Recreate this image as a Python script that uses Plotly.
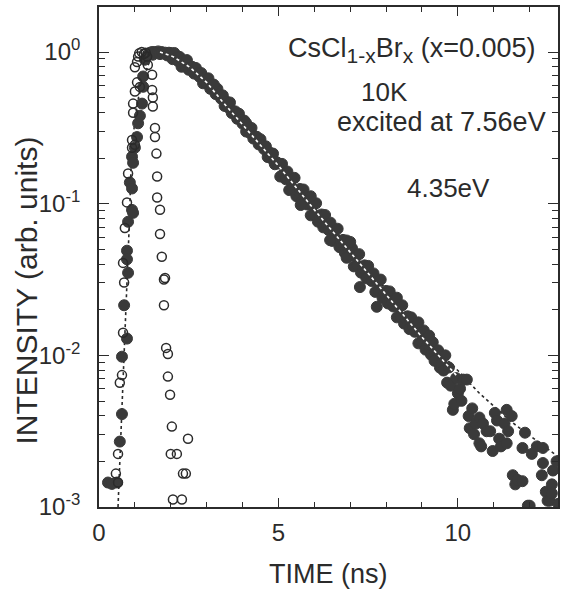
import plotly.graph_objects as go

# ---------------- data ----------------
# excitation pulse (open circles): time (ns), intensity
pulse_t = [1.19, 1.12, 1.25, 1.30, 1.09, 1.06, 1.00, 1.34, 1.36, 1.48, 1.06, 1.00, 1.14, 1.48,
           1.50, 1.50, 0.95, 0.95, 1.56, 1.56, 0.92, 0.92, 1.00, 1.60, 1.62, 0.81, 1.62, 1.70,
           0.78, 0.72, 1.70, 0.67, 1.75, 1.84, 0.70, 1.81, 1.81, 0.67, 1.87, 1.92, 0.64, 1.92,
           0.58, 1.98, 2.03, 2.48, 0.53, 2.00, 2.17, 0.47, 2.34, 2.42, 0.53, 2.06, 2.31]
pulse_v = [1.00, 0.98, 0.97, 0.99, 0.933, 0.86, 0.794, 0.933, 0.822, 0.708, 0.631, 0.55, 0.589, 0.562,
           0.501, 0.437, 0.457, 0.398, 0.316, 0.275, 0.263, 0.234, 0.245, 0.214, 0.151, 0.158, 0.110, 0.0912,
           0.102, 0.0692, 0.0631, 0.0407, 0.0447, 0.0324, 0.0302, 0.0316, 0.0214, 0.0141, 0.0112, 0.0102, 0.00741, 0.00724,
           0.0066, 0.0055, 0.00339, 0.00282, 0.00224, 0.00224, 0.00224, 0.00166, 0.00166, 0.00166, 0.00145, 0.00112, 0.00112]

# luminescence at 4.35 eV (filled circles): time (ns), intensity
lum_t = [0.25, 0.36, 0.50, 0.58, 0.64, 0.64, 0.70, 0.78, 0.78, 0.78, 0.81, 0.81, 0.86, 0.92, 0.92, 0.95,
         0.92, 0.95, 1.00, 1.06, 1.09, 1.14, 1.20, 1.23, 1.23, 1.28, 1.35, 1.42, 1.48,
         1.50, 1.55, 1.60, 1.65, 1.70, 1.75, 1.80, 1.85, 1.90, 1.95,
         2.00, 2.05, 2.10, 2.15, 2.20, 2.25, 2.30, 2.35, 2.40, 2.45, 2.50, 2.55,
         2.60, 2.65, 2.70, 2.75, 2.80, 2.85, 2.90, 2.95, 3.00, 3.05, 3.10, 3.15,
         3.20, 3.25, 3.30, 3.35, 3.40, 3.45, 3.50, 3.55, 3.60, 3.65, 3.70, 3.75,
         3.80, 3.85, 3.90, 3.95, 4.00, 4.05, 4.10, 4.15, 4.20, 4.25, 4.30, 4.35,
         4.40, 4.45, 4.50, 4.55, 4.60, 4.65, 4.70, 4.75, 4.80, 4.85, 4.90, 4.95,
         5.00, 5.05, 5.10, 5.15, 5.20, 5.25, 5.30, 5.35, 5.40, 5.45, 5.50, 5.55,
         5.60, 5.65, 5.70, 5.75, 5.80, 5.85, 5.90, 5.95, 6.00, 6.05, 6.10, 6.15,
         6.20, 6.25, 6.30, 6.35, 6.40, 6.45, 6.50, 6.55, 6.60, 6.65, 6.70, 6.75,
         6.80, 6.85, 6.90, 6.95, 7.00, 7.05, 7.10, 7.15, 7.20, 7.25, 7.30, 7.35,
         7.40, 7.45, 7.50, 7.55, 7.60, 7.65, 7.70, 7.75, 7.80, 7.85, 7.90, 7.95,
         8.00, 8.05, 8.10, 8.15, 8.20, 8.25, 8.30, 8.35, 8.40, 8.45, 8.50, 8.55,
         8.60, 8.65, 8.70, 8.75, 8.80, 8.85, 8.90, 8.95, 9.00, 9.05, 9.10, 9.15,
         9.20, 9.25, 9.30, 9.35, 9.40, 9.45, 9.50,
         7.27, 7.74, 5.62, 6.44, 3.20, 4.10, 5.90, 6.90, 8.30, 8.90, 7.00, 9.20, 9.35,
         9.55, 9.60, 9.65, 9.70, 9.75, 9.80, 9.86, 9.90, 9.95, 10.00, 10.06, 10.10, 10.15, 10.25, 10.30,
         10.33, 10.40, 10.45, 10.50, 10.60, 10.60, 10.65, 10.70, 10.80, 10.90, 10.97, 11.03, 11.09, 11.15,
         11.20, 11.30, 11.36, 11.36, 11.40, 11.50, 11.53, 11.60, 11.66, 11.80, 11.80, 11.87, 11.95, 12.00,
         12.06, 12.20, 12.34, 12.37, 12.37, 12.45, 12.50, 12.56, 12.62, 12.62, 12.65, 12.75, 12.80]
lum_v = [0.00145, 0.00142, 0.00145, 0.0027, 0.0041, 0.0098, 0.0214, 0.0129, 0.049, 0.043, 0.035, 0.076,
         0.138, 0.126, 0.204, 0.186, 0.091, 0.087, 0.234, 0.275, 0.339, 0.38, 0.457, 0.59, 0.69, 0.89,
         0.95, 0.99, 1.00,
         0.96, 1.00, 0.99, 1.01, 0.97, 1.00, 0.98, 0.99, 0.95, 0.99,
         0.984, 0.898, 0.986, 0.915, 0.873, 0.929, 0.800, 0.872, 0.806, 0.885, 0.764, 0.795,
         0.799, 0.721, 0.785, 0.724, 0.687, 0.727, 0.622, 0.674, 0.620, 0.671, 0.572, 0.590,
         0.590, 0.528, 0.572, 0.524, 0.493, 0.518, 0.441, 0.472, 0.431, 0.465, 0.396, 0.407,
         0.406, 0.363, 0.392, 0.358, 0.337, 0.353, 0.299, 0.321, 0.293, 0.316, 0.269, 0.277,
         0.276, 0.246, 0.266, 0.243, 0.229, 0.239, 0.203, 0.218, 0.199, 0.214, 0.182, 0.188,
         0.184, 0.151, 0.183, 0.158, 0.145, 0.163, 0.123, 0.142, 0.126, 0.148, 0.112, 0.121,
         0.125, 0.1035, 0.124, 0.107, 0.0988, 0.110, 0.0838, 0.097, 0.0848, 0.1007, 0.0761, 0.082,
         0.0849, 0.0698, 0.0842, 0.0728, 0.067, 0.075, 0.0568, 0.0659, 0.0577, 0.0684, 0.0517, 0.0556,
         0.0577, 0.0474, 0.0572, 0.0495, 0.0454, 0.0509, 0.0386, 0.0448, 0.0392, 0.0465, 0.0351, 0.0378,
         0.0392, 0.0322, 0.0389, 0.0336, 0.0309, 0.0347, 0.0262, 0.0304, 0.0266, 0.0316, 0.0239, 0.0257,
         0.0266, 0.0220, 0.0264, 0.0228, 0.0210, 0.0235, 0.0178, 0.0207, 0.0180, 0.0214, 0.0162, 0.0175,
         0.0181, 0.0149, 0.0178, 0.0155, 0.0143, 0.0160, 0.0120, 0.0141, 0.0123, 0.0146, 0.0109, 0.0118,
         0.0123, 0.0101, 0.0122, 0.0105, 0.0097, 0.0108, 0.0083,
         0.0282, 0.0209, 0.098, 0.0575, 0.61, 0.34, 0.112, 0.044, 0.024, 0.0165, 0.056, 0.0135, 0.0092,
         0.00891, 0.00794, 0.0100, 0.00661, 0.00832, 0.00631, 0.00437, 0.00479, 0.00708, 0.00562, 0.00603, 0.00501, 0.00692, 0.00692, 0.00398,
         0.00331, 0.00447, 0.00302, 0.00355, 0.00263, 0.00389, 0.00251, 0.00355, 0.00316, 0.00316, 0.00234, 0.00417, 0.00372, 0.00282,
         0.00251, 0.00355, 0.00263, 0.00437, 0.00316, 0.00398, 0.00162, 0.00141, 0.00151, 0.00148, 0.00245, 0.00309, 0.00102, 0.00102,
         0.00224, 0.00251, 0.00162, 0.00195, 0.00245, 0.00126, 0.00110, 0.00110, 0.00141, 0.00123, 0.00174, 0.00200, 0.00105]

# fitted curve (dotted)
fit_t = [0.53, 0.60, 0.66, 0.73, 0.80, 0.85, 0.90, 1.00, 1.10, 1.23, 1.35, 1.45, 1.55, 1.65,
         2.06, 2.53, 3.00, 3.45, 4.00, 5.00, 6.00, 7.00, 8.00, 9.00, 9.45, 10.00, 10.60, 11.50, 12.80]
fit_v = [0.0010, 0.0025, 0.0063, 0.0141, 0.0316, 0.0794, 0.200, 0.360, 0.500, 0.631, 0.800, 0.910, 0.970, 1.00,
         0.933, 0.794, 0.631, 0.468, 0.331, 0.178, 0.0955, 0.0513, 0.0275, 0.0145, 0.0107, 0.00794, 0.00562, 0.00363, 0.00214]

# single-exponential guide drawn in white through the data
guide_t = [1.70, 2.06, 2.53, 3.00, 3.45, 4.00, 5.00, 6.00, 7.00, 8.00, 9.00, 10.00]
guide_v = [1.00, 0.933, 0.794, 0.631, 0.468, 0.331, 0.178, 0.0912, 0.0478, 0.0251, 0.0132, 0.0072]

y_tickvals = [1, 0.1, 0.01, 0.001]
y_ticktext = ["10<sup>0</sup>", "10<sup>-1</sup>", "10<sup>-2</sup>", "10<sup>-3</sup>"]
x_tickvals = [0, 5, 10]
x_ticktext = ["0", "5", "10"]

FONT = "Liberation Sans, Arial, Helvetica, sans-serif"
INK = "#2b2b2b"

fig = go.Figure()
fig.add_trace(go.Scatter(x=fit_t, y=fit_v, mode="lines",
                         line=dict(color=INK, width=1.6, dash="dot"), hoverinfo="skip"))
fig.add_trace(go.Scatter(x=lum_t, y=lum_v, mode="markers",
                         marker=dict(symbol="circle", size=11, color="#3a3a3a",
                                     line=dict(color="#3a3a3a", width=1))))
fig.add_trace(go.Scatter(x=pulse_t, y=pulse_v, mode="markers",
                         marker=dict(symbol="circle-open", size=9,
                                     line=dict(color=INK, width=1.5), color=INK)))
fig.add_trace(go.Scatter(x=guide_t, y=guide_v, mode="lines",
                         line=dict(color="white", width=1.6, dash="dot"), hoverinfo="skip"))

axis_common = dict(showline=True, linecolor=INK, linewidth=1.6, mirror="allticks",
                   ticks="inside", tickcolor=INK, tickwidth=1.4, showgrid=False, zeroline=False,
                   automargin=False,
                   tickfont=dict(family=FONT, size=24, color=INK))

fig.update_xaxes(range=[0, 12.79], tickvals=x_tickvals, ticktext=x_ticktext, ticklen=9,
                 minor=dict(ticks="inside", dtick=1, tick0=0, ticklen=5, tickcolor=INK, tickwidth=1.2,
                            showgrid=False),
                 ticklabelstandoff=3, **axis_common)
fig.update_yaxes(type="log", range=[-3, 0.297], tickvals=y_tickvals, ticktext=y_ticktext, ticklen=10,
                 minor=dict(ticks="inside", dtick="D1", ticklen=6, tickcolor=INK, tickwidth=1.2,
                            showgrid=False),
                 ticklabelstandoff=12, **axis_common)

ann_font = dict(family=FONT, size=26, color=INK)
big_font = dict(family=FONT, size=27, color=INK)
fig.update_layout(
    template="none",
    width=561, height=591,
    margin=dict(l=99, r=3, t=7, b=84, autoexpand=False),
    paper_bgcolor="white", plot_bgcolor="white",
    showlegend=False,
    annotations=[
        dict(text="CsCl<sub><span style='font-size:21px'>1-x</span></sub>Br"
                  "<sub><span style='font-size:21px'>x</span></sub> (x=0.005)",
             xref="paper", yref="paper",
             x=0.408, y=0.914, xanchor="left", yanchor="middle", showarrow=False, font=big_font),
        dict(text="10K", xref="paper", yref="paper", x=0.567, y=0.83,
             xanchor="left", yanchor="middle", showarrow=False, font=ann_font),
        dict(text="excited at 7.56eV", xref="paper", yref="paper", x=0.514, y=0.77,
             xanchor="left", yanchor="middle", showarrow=False, font=big_font),
        dict(text="4.35eV", xref="paper", yref="paper", x=0.667, y=0.638,
             xanchor="left", yanchor="middle", showarrow=False, font=ann_font),
        dict(text="INTENSITY (arb. units)", xref="paper", yref="paper",
             x=-0.158, y=0.434, xanchor="center", yanchor="middle", textangle=-90,
             showarrow=False, font=dict(family=FONT, size=30, color=INK)),
        dict(text="TIME (ns)", xref="paper", yref="paper",
             x=0.5, y=-0.134, xanchor="center", yanchor="middle",
             showarrow=False, font=dict(family=FONT, size=27, color=INK)),
    ],
)

fig.write_html("out.html", config={"displayModeBar": False},
               post_script="document.body.style.margin='0px';document.body.style.overflow='hidden';")
